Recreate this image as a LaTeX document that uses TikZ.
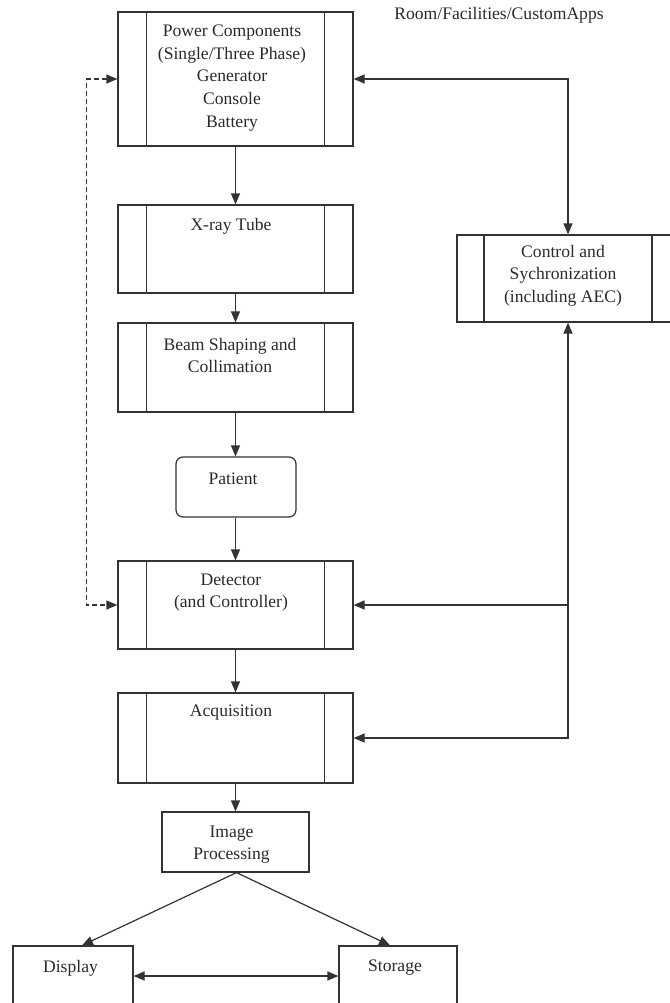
\documentclass[tikz,border=0pt]{standalone}
\usepackage{fontspec}
\setmainfont{Liberation Serif}
\usetikzlibrary{arrows.meta}
\definecolor{ink}{HTML}{333333}
\definecolor{txtc}{HTML}{2A2A2A}
\begin{document}
\begin{tikzpicture}[x=1pt,y=-1pt,
  >={Triangle[length=11pt,width=9pt]},
  box/.style={draw=ink, line width=1.2pt, inner sep=0pt, rectangle},
  barbox/.style={box, path picture={
     \draw[line width=1.2pt, draw=ink]
       ([xshift=#1]path picture bounding box.north west) -- ([xshift=#1]path picture bounding box.south west)
       ([xshift=-#1]path picture bounding box.north east) -- ([xshift=-#1]path picture bounding box.south east);}},
  barbox/.default=28.5pt,
  txt/.style={font=\fontsize{17.6}{22.7}\selectfont, align=center, inner sep=0pt, text=txtc},
  link/.style={->, line width=1.2pt, draw=ink},
  dlink/.style={<->, line width=1.2pt, draw=ink}
]
\useasboundingbox (0,0) rectangle (669,1003);

% --- main chain of units ---
\node[barbox, minimum width=235pt, minimum height=134pt] (power) at (235.5,79) {};
\node[barbox, minimum width=235pt, minimum height=88pt]  (xray)  at (235.5,249) {};
\node[barbox, minimum width=235pt, minimum height=89pt]  (beam)  at (235.5,367.5) {};
\node[box, rounded corners=7pt, minimum width=120pt, minimum height=60pt] (patient) at (236,487) {};
\node[barbox, minimum width=235pt, minimum height=88pt]  (det)   at (235.5,605) {};
\node[barbox, minimum width=235pt, minimum height=90pt]  (acq)   at (235.5,738) {};
\node[box, minimum width=147pt, minimum height=60pt] (proc) at (235.5,842) {};
\node[box, minimum width=120pt, minimum height=60pt] (display) at (73,976) {};
\node[box, minimum width=118pt, minimum height=60pt] (storage) at (398,976) {};
\node[barbox=27pt, minimum width=222pt, minimum height=87pt] (ctrl) at (568,278.5) {};

% --- texts ---
\node[txt] (roomT) at (499,15) {Room/Facilities/CustomApps};
\node[txt] (powerT) at (232,78) {Power Components\\(Single/Three Phase)\\Generator\\Console\\Battery};
\node[txt] (xrayT) at (231,226) {X-ray Tube};
\node[txt] (beamT) at (230,355.5) {Beam Shaping and\\Collimation};
\node[txt] (patientT) at (233,479) {Patient};
\node[txt] (detT) at (231,592.5) {Detector\\(and Controller)};
\node[txt] (acqT) at (231,713) {Acquisition};
\node[txt] (procT) at (231.5,844.5) {Image\\Processing};
\node[txt] (dispT) at (70.5,968) {Display};
\node[txt] (storT) at (395,968) {Storage};
\node[txt] (ctrlT) at (563,275.5) {Control and\\Sychronization\\(including AEC)};

% --- signal path ---
\draw[link] (power.south) -- (xray.north);
\draw[link] (xray.south) -- (beam.north);
\draw[link] (beam.south) -- (patient.north -| beam.south);
\draw[link] (patient.south -| beam.south) -- (det.north);
\draw[link] (det.south) -- (acq.north);
\draw[link] (acq.south) -- (proc.north);
\draw[link] ([xshift=1pt]proc.south) -- ([xshift=9pt]display.north);
\draw[link] ([xshift=1pt]proc.south) -- ([xshift=-8pt]storage.north);
\draw[dlink] (display.east) -- (storage.west);

% --- control bus ---
\coordinate (busDet) at (ctrl.south |- det.east);
\draw[dlink] (power.east) -| (ctrl.north);
\draw[dlink] (ctrl.south) |- (acq.east);
\draw[link] (busDet) -- (det.east);

% --- dashed power/detector link ---
\coordinate (dashTop) at ([xshift=-31pt]power.west);
\draw[dlink, dash pattern=on 5pt off 3pt] (power.west) -- (dashTop) |- (det.west);
\end{tikzpicture}
\end{document}
